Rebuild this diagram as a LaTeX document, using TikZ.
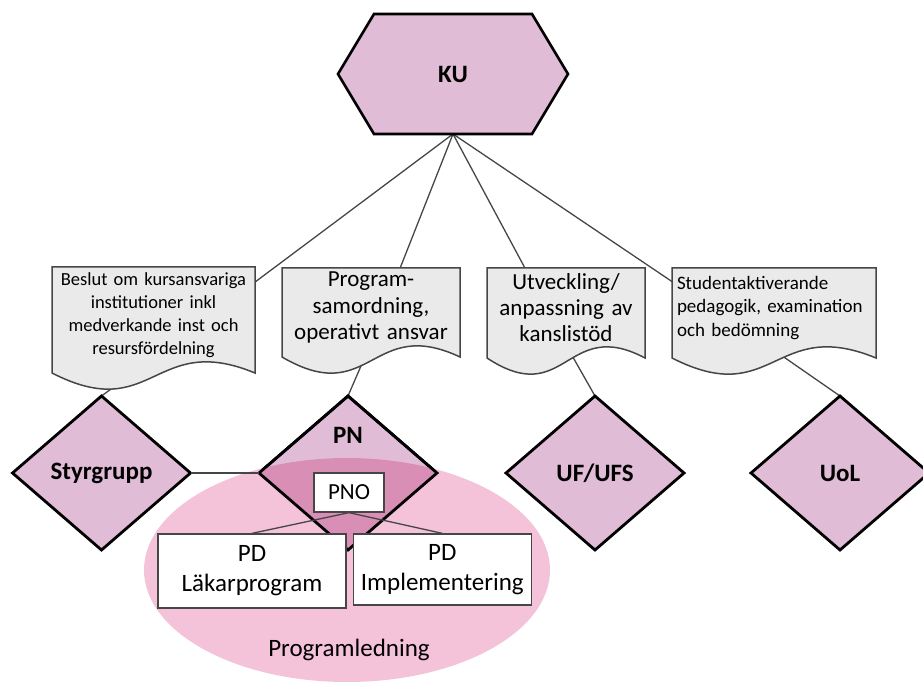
\documentclass[tikz,border=0pt]{standalone}
\usepackage{fontspec}
\setmainfont{Carlito}
\usetikzlibrary{shapes.geometric, calc, backgrounds, positioning}

\definecolor{lila}{RGB}{224,188,214}
\definecolor{papper}{RGB}{234,234,234}
\definecolor{rosa}{RGB}{244,194,217}
\definecolor{morkrosa}{RGB}{216,142,181}
\definecolor{linje}{RGB}{70,70,70}

% document shape with wavy bottom round a node
\newcommand{\dokument}[1]{%
  \filldraw[fill=papper, draw=linje, line width=1.5pt]
    (#1.north west) -- (#1.north east) -- ($(#1.south east)+(0,10)$)
    .. controls ($(#1.south)+(0,-32)$) and ($(#1.south)+(0,62)$) .. ($(#1.south west)+(0,10)$) -- cycle;}

\begin{document}
\begin{tikzpicture}[x=1pt, y=-1pt,
    ruta/.style={diamond, draw=black, line width=2.8pt, fill=lila,
      minimum width=178, minimum height=154, inner sep=0pt, outer sep=0pt,
      font=\fontsize{25}{30}\selectfont\bfseries},
    papp/.style={rectangle, inner xsep=5pt, inner ysep=0pt, outer sep=0pt, align=center},
    vitruta/.style={rectangle, draw=linje, line width=1.3pt, fill=white,
      inner sep=0pt, align=center, font=\fontsize{25}{30}\selectfont},
    linjen/.style={draw=linje, line width=1.3pt}]

\useasboundingbox (0,0) rectangle (923,684);

% KU
\node[minimum width=230, minimum height=120, inner sep=0pt, outer sep=0pt,
  font=\fontsize{25}{30}\selectfont\bfseries] (ku) at (453,74) {KU};

% Documents
\node[papp, text width=193, minimum height=96, font=\fontsize{18.5}{23}\selectfont] (beslut) at (153.5,315)
  {Beslut om kursansvariga\\institutioner inkl\\medverkande inst och\\resursfördelning};
\node[papp, text width=168, minimum height=79, font=\fontsize{23}{26.5}\selectfont] (samordning) at (371,307.5)
  {Program-\\samordning,\\operativt ansvar};
\node[papp, text width=148, minimum height=80, font=\fontsize{23}{26}\selectfont] (kansli) at (566,308)
  {Utveckling/\\anpassning av\\kanslistöd};
\node[papp, text width=194, minimum height=80, align=left, font=\fontsize{19}{23.5}\selectfont] (pedagogik) at (774,308)
  {Studentaktiverande\\pedagogik, examination\\och bedömning};

\coordinate (beslut-nav) at (153.5,358);
\coordinate (samordning-nav) at (367,352);
\coordinate (kansli-nav) at (570,352);
\coordinate (pedagogik-nav) at (778,353);

% Groups
\node[ruta] (styrgrupp) at (101.5,473) {Styrgrupp};
\node[ruta] (pn) at (348,473) {};
\node[inner sep=0pt, font=\fontsize{25}{30}\selectfont\bfseries, below=31pt of pn.north] (pntext) {PN};
\node[ruta] (ufs) at (595,473) {UF/UFS};
\node[ruta] (uol) at (840,473) {UoL};

\begin{scope}[on background layer]
  \foreach \d/\r in {beslut/styrgrupp, samordning/pn, kansli/ufs, pedagogik/uol}
    \draw[linjen] (ku.south) -- (\d-nav) -- (\r.north);
  \filldraw[fill=lila, draw=black, line width=2.6pt]
    (ku.west) -- ($(ku.north west)+(36,0)$) -- ($(ku.north east)+(-36,0)$) -- (ku.east)
    -- ($(ku.south east)+(-36,0)$) -- ($(ku.south west)+(36,0)$) -- cycle;
  \foreach \d in {beslut, samordning, kansli, pedagogik}
    \dokument{\d};
\end{scope}

% Programledning
\fill[rosa] (347,570) ellipse [x radius=203, y radius=112];
\begin{scope}
  \clip (347,570) ellipse [x radius=203, y radius=112];
  \fill[morkrosa] (pn.north) -- (pn.east) -- (pn.south) -- (pn.west) -- cycle;
\end{scope}
\draw[line width=2.8pt] (pn.north) -- (pn.east) -- (pn.south) -- (pn.west) -- cycle;
\draw[linjen] (styrgrupp.east) -- (pn.west);

\node[vitruta, minimum width=70, minimum height=39, font=\fontsize{23}{28}\selectfont] (pno) at (349,492.5) {PNO};
\node[vitruta, minimum width=188, minimum height=74] (pdlak) at (252,571) {PD\\Läkarprogram};
\node[vitruta, minimum width=178, minimum height=71, anchor=north west] (pdimp) at ([xshift=6pt]pdlak.north east) {PD\\Implementering};
\draw[linjen] (pno.south) -- (pdlak.north);
\draw[linjen] (pno.south) -- (pdimp.north);
\node[font=\fontsize{25}{30}\selectfont] (progled) at (349,650) {Programledning};
\end{tikzpicture}
\end{document}
